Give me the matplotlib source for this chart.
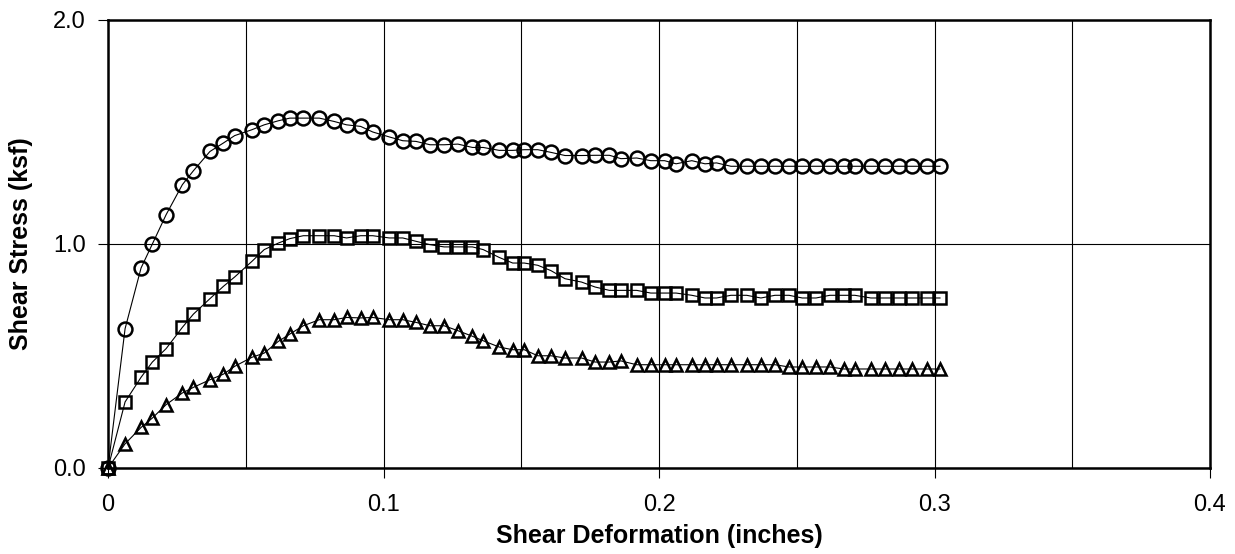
import numpy as np
import matplotlib
matplotlib.use("Agg")
import matplotlib.pyplot as plt

plt.rcParams['font.family'] = ['Liberation Sans', 'DejaVu Sans']

# shear deformation (inches), shared by all three tests
deformacion = [0, 0.0062, 0.012, 0.0161, 0.0211, 0.027, 0.031, 0.037, 0.0419, 0.046,
               0.0522, 0.0567, 0.0618, 0.066, 0.0709, 0.0767, 0.0821, 0.0866, 0.0917, 0.0961,
               0.1021, 0.107, 0.1118, 0.1169, 0.122, 0.127, 0.1323, 0.1362, 0.142, 0.1469,
               0.1511, 0.156, 0.1608, 0.1659, 0.1719, 0.1768, 0.182, 0.1862, 0.1919, 0.197,
               0.202, 0.2062, 0.2119, 0.2167, 0.2209, 0.2261, 0.2318, 0.237, 0.2421, 0.2472,
               0.252, 0.257, 0.262, 0.2671, 0.2711, 0.2769, 0.282, 0.2871, 0.292, 0.2971, 0.302]

# shear stress (ksf)
circulos = [0, 0.622, 0.893, 1.0, 1.131, 1.265, 1.327, 1.413, 1.451, 1.484,
            1.510, 1.532, 1.550, 1.562, 1.562, 1.562, 1.547, 1.532, 1.525, 1.50,
            1.478, 1.461, 1.458, 1.443, 1.443, 1.446, 1.431, 1.431, 1.418, 1.418,
            1.421, 1.421, 1.409, 1.395, 1.395, 1.396, 1.396, 1.381, 1.384, 1.372,
            1.372, 1.358, 1.372, 1.358, 1.362, 1.347, 1.347, 1.347, 1.347, 1.347,
            1.347, 1.347, 1.347, 1.347, 1.347, 1.347, 1.347, 1.347, 1.347, 1.347, 1.347]

cuadrados = [0, 0.295, 0.405, 0.473, 0.533, 0.628, 0.687, 0.756, 0.811, 0.853,
             0.922, 0.975, 1.004, 1.024, 1.037, 1.037, 1.037, 1.027, 1.037, 1.037,
             1.027, 1.027, 1.012, 0.997, 0.987, 0.987, 0.987, 0.975, 0.940, 0.915,
             0.915, 0.905, 0.881, 0.845, 0.830, 0.808, 0.793, 0.793, 0.793, 0.781,
             0.781, 0.781, 0.771, 0.759, 0.759, 0.771, 0.771, 0.759, 0.771, 0.771,
             0.759, 0.759, 0.771, 0.771, 0.771, 0.759, 0.759, 0.759, 0.759, 0.759, 0.759]

triangulos = [0, 0.108, 0.181, 0.223, 0.283, 0.335, 0.360, 0.394, 0.419, 0.454,
              0.494, 0.513, 0.565, 0.598, 0.635, 0.662, 0.662, 0.672, 0.670, 0.672,
              0.662, 0.662, 0.650, 0.635, 0.635, 0.613, 0.588, 0.568, 0.540, 0.528,
              0.528, 0.501, 0.501, 0.491, 0.491, 0.473, 0.473, 0.478, 0.461, 0.461,
              0.461, 0.461, 0.461, 0.461, 0.461, 0.461, 0.461, 0.461, 0.461, 0.451,
              0.451, 0.451, 0.451, 0.442, 0.442, 0.442, 0.442, 0.442, 0.442, 0.442, 0.442]

ticks_x = [0, 0.1, 0.2, 0.3, 0.4]
etiquetas_x = ['0', '0.1', '0.2', '0.3', '0.4']
ticks_y = [0, 1.0, 2.0]
etiquetas_y = ['0.0', '1.0', '2.0']

fig = plt.figure(figsize=(12.35, 5.54), dpi=100)
ax = fig.add_axes([108/1235, 86/554, 1102/1235, 448/554])

estilos = [(circulos, 'o', 10), (cuadrados, 's', 8), (triangulos, '^', 8)]
for serie, marca, tam in estilos:
	ax.plot(deformacion, serie, '-', color='black', lw=0.8,
	        marker=marca, markersize=tam, markerfacecolor='none',
	        markeredgecolor='black', markeredgewidth=1.8, zorder=3, clip_on=False)

ax.set_xlim(0, 0.4)
ax.set_ylim(0, 2.0)
ax.set_xticks(ticks_x, labels=etiquetas_x)
ax.set_xticks([0.05, 0.15, 0.25, 0.35], minor=True)
ax.set_yticks(ticks_y, labels=etiquetas_y)

ax.grid(True, which='both', axis='x', color='black', lw=0.8)
ax.grid(True, which='major', axis='y', color='black', lw=0.8)
ax.tick_params(which='major', direction='out', length=7, width=0.8, labelsize=17)
ax.tick_params(axis='x', pad=12)
ax.tick_params(axis='y', pad=9)
ax.tick_params(which='minor', length=0)

for lado in ax.spines.values():
	lado.set_linewidth(1.8)
	lado.set_zorder(4)

ax.set_xlabel('Shear Deformation (inches)', fontsize=18, fontweight='bold')
ax.set_ylabel('Shear Stress (ksf)', fontsize=18, fontweight='bold')
ax.xaxis.set_label_coords(0.5, -0.125)
ax.yaxis.set_label_coords(-0.068, 0.5)

fig.savefig('out.png', dpi=100)
